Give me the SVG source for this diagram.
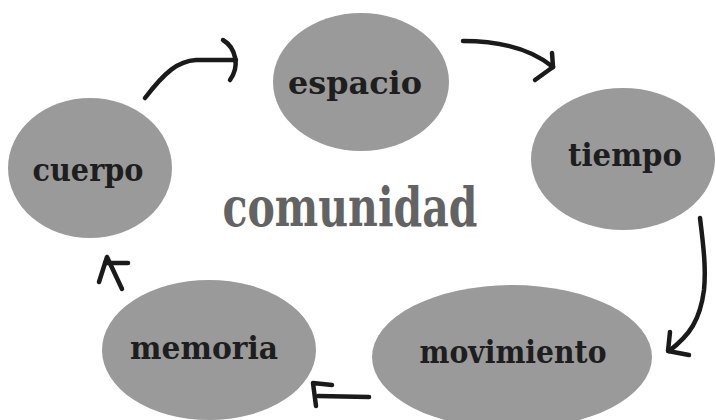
<svg xmlns="http://www.w3.org/2000/svg" width="716" height="420" viewBox="0 0 716 420">
  <defs>
    <style>
      .node { fill: #9a9a9a; }
      .label { font-family: "DejaVu Serif", "Liberation Serif", serif; font-weight: bold; font-size: 32px; fill: #1e1e1e; text-anchor: middle; }
      .title { font-family: "DejaVu Serif", "Liberation Serif", serif; font-weight: bold; font-size: 55px; fill: #636363; text-anchor: middle; }
      .wire { fill: none; stroke: #1a1a1a; stroke-width: 4.5; stroke-linecap: round; stroke-linejoin: round; }
    </style>
  </defs>
  <rect width="716" height="420" fill="#ffffff"/>

  <g id="cuerpo">
    <ellipse class="node" cx="90" cy="168" rx="82" ry="70"/>
    <text class="label" x="88" y="181" textLength="111" lengthAdjust="spacingAndGlyphs">cuerpo</text>
  </g>
  <g id="espacio">
    <ellipse class="node" cx="361" cy="82" rx="88" ry="69"/>
    <text class="label" x="355" y="94" textLength="134" lengthAdjust="spacingAndGlyphs">espacio</text>
  </g>
  <g id="tiempo">
    <ellipse class="node" cx="623" cy="159" rx="92" ry="71"/>
    <text class="label" x="625" y="166" textLength="114" lengthAdjust="spacingAndGlyphs">tiempo</text>
  </g>
  <g id="movimiento">
    <ellipse class="node" cx="512" cy="357" rx="140" ry="72"/>
    <text class="label" x="513" y="363" textLength="187" lengthAdjust="spacingAndGlyphs">movimiento</text>
  </g>
  <g id="memoria">
    <ellipse class="node" cx="209" cy="350" rx="107" ry="70"/>
    <text class="label" x="204" y="359" textLength="148" lengthAdjust="spacingAndGlyphs">memoria</text>
  </g>
  <g id="comunidad">
    <text class="title" x="350" y="226" textLength="255" lengthAdjust="spacingAndGlyphs">comunidad</text>
  </g>

  <g id="connectors">
    <!-- cuerpo to espacio -->
    <path class="wire" d="M145,98 C165,72 178,61 196,60 L236,60"/>
    <path class="wire" d="M223,40 C236,48 240,66 230,80"/>
    <!-- espacio to tiempo -->
    <path class="wire" d="M463,41 C500,41 530,48 553,67"/>
    <path class="wire" d="M552,53 L553,67 L535,80"/>
    <!-- tiempo to movimiento -->
    <path class="wire" d="M700,218 C704,250 706,270 704,290 C700,320 690,335 669,351"/>
    <path class="wire" d="M670,332 L668,351 L689,355"/>
    <!-- movimiento to memoria -->
    <path class="wire" d="M369,397 L318,396"/>
    <path class="wire" d="M332,385 L313,383 L316,406"/>
    <!-- memoria to cuerpo -->
    <path class="wire" d="M99,282 L107,257 L122,289"/>
    <path class="wire" d="M105,263 L128,263"/>
  </g>
</svg>
